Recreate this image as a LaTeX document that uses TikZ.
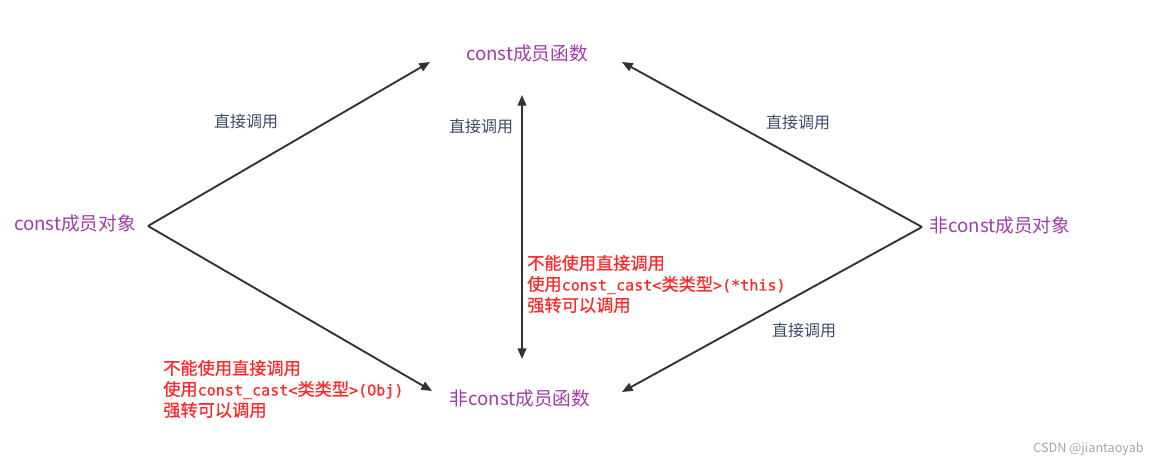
\documentclass[tikz,border=0pt]{standalone}
\usepackage{fontspec}
\setmainfont{Noto Sans CJK SC}
\newfontfamily\monof[FakeBold=0.6]{DejaVu Sans Mono}
\newfontfamily\notef[FakeBold=0.6]{Noto Sans CJK SC}
\usetikzlibrary{arrows.meta}
\definecolor{purp}{RGB}{160,60,170}
\definecolor{slate}{RGB}{60,76,106}
\definecolor{redt}{RGB}{255,40,40}
\definecolor{linec}{RGB}{50,50,50}
\tikzset{
  ent/.style={text=purp, font=\fontsize{14}{16}\selectfont, inner sep=0pt},
  lab/.style={text=slate, font=\fontsize{12}{14}\selectfont, inner sep=0pt},
  note/.style={text=redt, font=\notef\fontsize{12.9}{15.75}\selectfont, align=left, inner sep=0pt, anchor=west},
  conn/.style={draw=linec, line width=1.4pt, -{Triangle[length=8pt,width=6.5pt]}},
  conn2/.style={draw=linec, line width=1.4pt, {Triangle[length=8pt,width=6.5pt]}-{Triangle[length=8pt,width=6.5pt]}},
}
\newcommand{\mn}[1]{{\monof\fontsize{11.3}{15.75}\selectfont #1}}
\begin{document}
\begin{tikzpicture}[x=0.75pt,y=-0.75pt]
\useasboundingbox[fill=white] (0,0) rectangle (1158,466);
% entities
\node[ent] (cf) at (527,53) {const成员函数};
\node[ent] (co) at (75,223) {const成员对象};
\node[ent] (nco) at (1000,225) {非const成员对象};
\node[ent] (ncf) at (520,398) {非const成员函数};
% connector endpoints
\coordinate (cos) at (148,226);
\coordinate (ncos) at (922,227);
\coordinate (cfl) at (430,62);
\coordinate (cfr) at (622,62);
\coordinate (cfb) at (522,95);
\coordinate (ncfl) at (432,391);
\coordinate (ncfr) at (622,392);
\coordinate (ncft) at (522,359);
% connectors
\draw[conn] (cos) -- (cfl);
\draw[conn] (cos) -- (ncfl);
\draw[conn] (ncos) -- (cfr);
\draw[conn] (ncos) -- (ncfr);
\draw[conn2] (cfb) -- (ncft);
% labels
\node[lab] (l1) at (246,121) {直接调用};
\node[lab] (l2) at (481,126) {直接调用};
\node[lab] (l3) at (798,122) {直接调用};
\node[lab] (l4) at (804,330) {直接调用};
% notes
\node[note] (n1) at (527,284) {不能使用直接调用\\使用\mn{const\_cast<}类类型\mn{>(*this)}\\强转可以调用};
\node[note] (n2) at (163,389) {不能使用直接调用\\使用\mn{const\_cast<}类类型\mn{>(Obj)}\\强转可以调用};
% watermark
\node[text=gray!70, font=\fontsize{9.5}{12}\selectfont, anchor=east, inner sep=0pt] (wm) at (1144,449) {CSDN @jiantaoyab};
\end{tikzpicture}
\end{document}
